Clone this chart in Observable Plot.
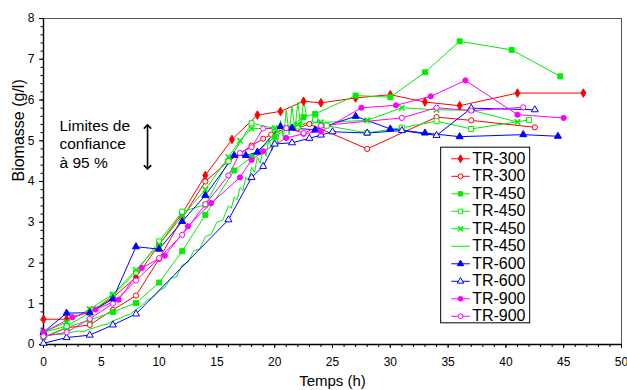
<!DOCTYPE html>
<html><head><meta charset="utf-8">
<script src="https://cdn.jsdelivr.net/npm/d3@7"></script>
<script src="https://cdn.jsdelivr.net/npm/@observablehq/plot@0.6"></script>
<style>body{margin:0;background:#fff}#chart svg{display:block}</style>
</head><body><div id="chart"></div>
<script>
// ---- data ----
const seriesNames = ["TR-300","TR-300","TR-450","TR-450","TR-450","TR-450","TR-600","TR-600","TR-900","TR-900"];
const seriesColors = ["#ff0000","#ff0000","#00ee00","#00ee00","#00ee00","#00ee00","#0000ff","#0000ff","#ff00ff","#ff00ff"];
const seriesSymbols = ["diamond","circle","square","square","times",null,"triangle","triangle","circle","circle"];
const seriesFilled = [true,false,true,false,true,false,true,false,true,false];

const tr300aT = [0,2,4,6,8,10,12,14,16.3,18.5,20.5,22.5,24,27,30,33,36,41,46.7];
const tr300aB = [0.62,0.62,0.8,1.15,1.65,2.45,3.22,4.15,5.03,5.63,5.72,5.97,5.93,6.05,6.13,5.95,5.86,6.17,6.17];
const tr300bT = [0,2,4,6,8,10,12,14,16,18,19,19.7,21,22,23,28,34,37,42.5];
const tr300bB = [0.17,0.41,0.48,0.85,1.2,2.1,3.1,4.0,4.5,4.88,5.05,5.15,5.31,5.31,5.41,4.8,5.58,5.5,5.33];
const tr450aT = [0,2,4,6,8,10,12,14,16.5,18,20,22.5,23.5,27,30,33,36,40.5,44.7];
const tr450aB = [0.18,0.42,0.6,0.8,1.02,1.52,2.29,3.18,4.27,4.6,5.1,5.58,5.66,6.11,6.07,6.68,7.44,7.23,6.58];
const tr450bT = [0,2,4,6,8,10,12,14,16,18,20,22,23.5,24.5,28,31,34,37,42];
const tr450bB = [0.3,0.45,0.78,1.2,1.77,2.53,3.26,3.43,4.5,5.43,5.3,5.35,5.52,5.37,5.19,5.32,5.48,5.29,5.51];
const tr450cT = [0,2,4,6,8,10,12,14,16,17,18,20,22,24,28,31,34,37,41];
const tr450cB = [0.3,0.55,0.87,1.23,1.83,2.45,3.15,3.8,4.6,5.0,5.3,5.3,5.4,5.45,5.5,5.81,5.76,5.75,5.46];
const tr450dT = [0,0.5,1,1.5,2,2.5,3,3.5,4,4.5,5,5.5,6,6.5,7,7.5,8,8.5,9,9.5,10,10.5,11,11.5,12,12.5,13,13.5,14,14.5,15,15.5,16,16.25,16.5,16.75,17,17.25,17.5,17.75,18,18.25,18.5,18.75,19,19.25,19.5,19.75,20,20.25,20.5,20.75,21,21.25,21.5,21.75,22,22.25,22.5,22.75];
const tr450dB = [0.2,0.22,0.25,0.24,0.28,0.3,0.33,0.32,0.38,0.42,0.47,0.5,0.58,0.63,0.7,0.74,0.86,0.95,1.1,1.16,1.32,1.4,1.62,1.66,1.95,2.02,2.3,2.34,2.65,2.7,3.0,3.05,3.4,3.35,3.62,3.55,3.85,3.78,4.1,4.02,4.35,4.22,4.6,4.45,4.8,4.62,5.05,4.75,5.3,4.95,5.5,5.05,5.75,5.15,5.85,5.25,5.95,5.35,6.0,5.6];
const tr600aT = [0,2,4,6,8,10,12,14,16.5,17.5,18.5,20.5,21.5,23.5,27,30,33,36,41.5,44.5];
const tr600aB = [0.3,0.77,0.78,1.12,2.4,2.34,3.02,3.66,4.64,4.64,4.72,5.35,5.31,5.27,5.6,5.29,5.19,5.1,5.15,5.11];
const tr600bT = [0,2,4,6,8,16,18,19,20,21.5,23,24,25,28,31,34,37,42.5];
const tr600bB = [0.03,0.17,0.23,0.48,0.75,3.06,4.1,4.37,4.92,4.95,5.06,5.14,5.22,5.19,5.25,5.13,5.8,5.76];
const tr900aT = [0,2.5,4.5,6.5,8.5,10.5,12.5,14.5,17,18,19,21,22.5,24,27.5,30.5,33.5,36.5,41,45];
const tr900aB = [0.3,0.67,0.86,1.1,1.88,2.18,2.9,3.47,4.1,4.53,4.74,5.07,5.17,5.23,5.81,5.87,6.09,6.48,5.64,5.56];
const tr900bT = [0,2,4,6,8,10,12,14,16,17,18,19,21,22.5,24,31,34,37,41.5];
const tr900bB = [0.2,0.3,0.63,1.0,1.57,2.12,2.69,3.44,4.15,4.7,4.84,5.3,5.31,5.19,5.37,5.56,5.81,5.74,5.82];

const seriesT = [tr300aT,tr300bT,tr450aT,tr450bT,tr450cT,tr450dT,tr600aT,tr600bT,tr900aT,tr900bT];
const seriesB = [tr300aB,tr300bB,tr450aB,tr450bB,tr450cB,tr450dB,tr600aB,tr600bB,tr900aB,tr900bB];

const xMajor = [0,5,10,15,20,25,30,35,40,45,50];
const yMajor = [0,1,2,3,4,5,6,7,8];
const annotationText = "Limites de\nconfiance\nà 95 %";
const ciLimits = [4.35, 5.35];
const xTitle = "Temps (h)";
const yTitle = "Biomasse (g/l)";

// ---- build ----
const rows = [];
seriesT.forEach((ts, s) => ts.forEach((t, i) => rows.push({s, t, b: seriesB[s][i]})));
const xMinor = d3.range(0, 50.001, 1);
const yMinor = d3.range(0, 8.001, 0.2);

const marks = [];
marks.push(Plot.frame({stroke: "#555"}));
marks.push(Plot.axisX(xMinor, {tickSize: 3, tickFormat: () => "", label: null}));
marks.push(Plot.axisX(xMajor, {tickSize: 4, tickPadding: 9, fontSize: 12, label: null}));
marks.push(Plot.axisY(yMinor, {tickSize: 2.5, tickFormat: () => "", label: null}));
marks.push(Plot.axisY(yMajor, {tickSize: 4, tickPadding: 5, fontSize: 12, label: null}));
marks.push(Plot.ruleX([0], {stroke: "black", strokeWidth: 1.4}));
marks.push(Plot.ruleY([0], {stroke: "black", strokeWidth: 1.4}));

seriesT.forEach((_, s) => {
  const d = rows.filter(r => r.s === s);
  marks.push(Plot.line(d, {x: "t", y: "b", stroke: seriesColors[s], strokeWidth: 1}));
});
seriesT.forEach((_, s) => {
  if (!seriesSymbols[s]) return;
  const d = rows.filter(r => r.s === s);
  const sym = seriesSymbols[s];
  const stroked = sym === "times";
  marks.push(Plot.dot(d, {x: "t", y: "b", symbol: sym, r: sym === "square" ? 2.8 : 2.6,
    fill: stroked ? "none" : (seriesFilled[s] ? seriesColors[s] : "white"),
    stroke: seriesColors[s], strokeWidth: stroked ? 1.6 : 1}));
});

// annotation
marks.push(Plot.text([annotationText], {x: 1.38, y: 5.57, text: d => d, textAnchor: "start", lineAnchor: "top", fontSize: 15.5, lineHeight: 1.2, fill: "black"}));
const ciMid = (ciLimits[0] + ciLimits[1]) / 2;
marks.push(Plot.link(ciLimits, {x1: 9, x2: 9, y1: () => ciMid, y2: d => d, stroke: "black", strokeWidth: 1.6, markerEnd: "arrow"}));

// legend (in data coordinates)
const legRows = seriesNames.map((name, i) => ({i, name, y: 4.557 - i * 0.4294}));
marks.push(Plot.rect([0], {x1: 34.4, x2: 42.1, y1: 0.52, y2: 4.83, fill: "white", stroke: "black", strokeWidth: 1}));
legRows.forEach(r => {
  marks.push(Plot.link([r], {x1: 35.27, x2: 36.88, y1: "y", y2: "y", stroke: seriesColors[r.i], strokeWidth: 1}));
  const sym = seriesSymbols[r.i];
  if (sym) {
    const stroked = sym === "times";
    marks.push(Plot.dot([r], {x: 36.07, y: "y", symbol: sym, r: 2.4,
      fill: stroked ? "none" : (seriesFilled[r.i] ? seriesColors[r.i] : "white"),
      stroke: seriesColors[r.i], strokeWidth: stroked ? 1.5 : 1}));
  }
});
marks.push(Plot.text(legRows, {x: 37.08, y: "y", text: "name", textAnchor: "start", fontSize: 16, fill: "black"}));

// axis titles
marks.push(Plot.text([yTitle], {frameAnchor: "left", dx: -25, rotate: -90, text: d => d, fontSize: 16, fill: "black"}));
marks.push(Plot.text([xTitle], {frameAnchor: "bottom", dy: 41, text: d => d, fontSize: 15, fill: "black"}));

const chart = Plot.plot({
  width: 627, height: 390,
  marginLeft: 43, marginRight: 6, marginTop: 18, marginBottom: 46,
  x: {domain: [0, 50]}, y: {domain: [0, 8]},
  style: {fontFamily: "'Liberation Sans', Arial, sans-serif", background: "white", color: "black"},
  marks
});
document.getElementById("chart").append(chart);
</script>
</body></html>
